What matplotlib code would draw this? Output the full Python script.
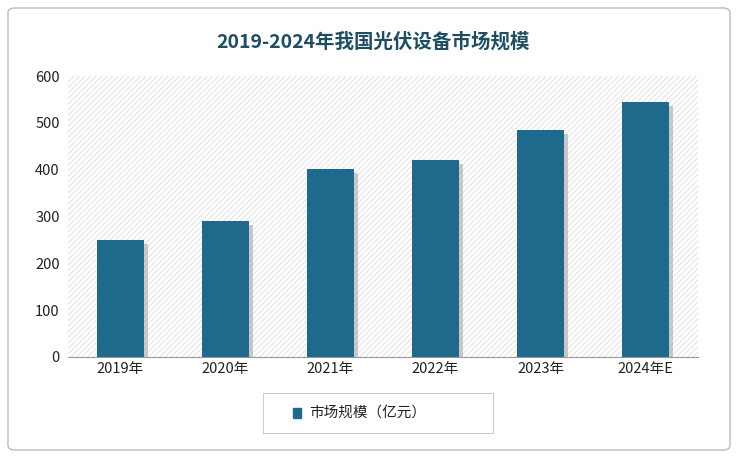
import matplotlib
matplotlib.use("Agg")
import matplotlib.pyplot as plt
from matplotlib import font_manager as fm
from matplotlib.patches import FancyBboxPatch, Rectangle
import matplotlib.patheffects as pe

cjk = None
for f in fm.fontManager.ttflist:
    if 'CJK' in f.name and 'SC' in f.name:
        cjk = f.name; break
if cjk is None:
    for f in fm.fontManager.ttflist:
        if 'CJK' in f.name:
            cjk = f.name; break
plt.rcParams['font.family'] = [cjk or 'Noto Sans CJK SC', 'DejaVu Sans']
plt.rcParams['hatch.linewidth'] = 0.6

categories = ["2019年", "2020年", "2021年", "2022年", "2023年", "2024年E"]
values = [250, 290, 401, 420, 485, 544]
yticks = [0, 100, 200, 300, 400, 500, 600]
title = "2019-2024年我国光伏设备市场规模"
legend_label = "市场规模（亿元）"
bar_color = "#1d6a8c"

W, H = 738, 458
fig = plt.figure(figsize=(W/100, H/100), dpi=100)
fig.patches.append(FancyBboxPatch((8/W, 8/H), 722/W, 442/H, boxstyle="round,pad=0,rounding_size=0.01",
                                  transform=fig.transFigure, fill=False, ec='#bbbbbb', lw=1))
ax = fig.add_axes([68/W, 1-357/H, 630/W, 281/H])
ax.add_patch(Rectangle((0, 0), 1, 1, transform=ax.transAxes, fill=False, hatch='//////',
                       ec='#dcdcdc', lw=0, zorder=0))
x = list(range(len(categories)))
ax.bar(x, values, width=0.45, color=bar_color, zorder=3,
       path_effects=[pe.SimplePatchShadow(offset=(3, -3), shadow_rgbFace='#999999', alpha=0.5), pe.Normal()])
ax.set_xlim(-0.5, len(categories)-0.5)
ax.set_ylim(0, 600)
ax.set_yticks(yticks)
ax.set_xticks(x)
ax.set_xticklabels(categories)
ax.tick_params(axis='both', length=0, labelsize=10.5, colors='#222222')
ax.tick_params(axis='y', pad=6)
for s in ['top', 'right', 'left']:
    ax.spines[s].set_visible(False)
ax.spines['bottom'].set_color('#999999')
fig.text(373/W, 1-42/H, title, ha='center', va='center', fontsize=14, fontweight='bold', color='#1f4e63')

lax = fig.add_axes([263/W, 1-433/H, 230/W, 40/H])
lax.set_xticks([]); lax.set_yticks([])
for s in lax.spines.values():
    s.set_color('#cccccc')
lax.add_patch(Rectangle((0.13, 0.38), 0.035, 0.24, color=bar_color, transform=lax.transAxes))
lax.text(0.2, 0.5, legend_label, transform=lax.transAxes, va='center', fontsize=10.5, color='#222222')
fig.savefig("out.png", dpi=100)
